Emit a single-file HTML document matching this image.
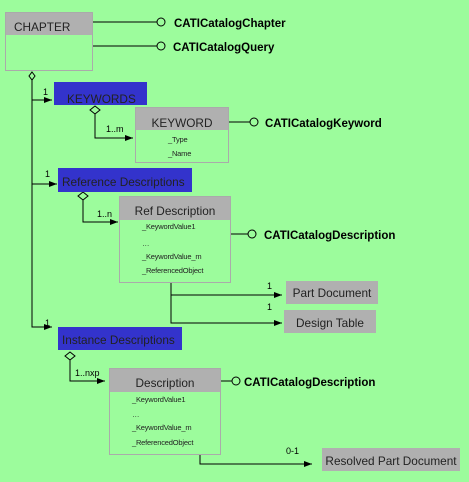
<!DOCTYPE html>
<html><head><meta charset="utf-8"><style>
body{margin:0;background:#9cfc9c;}
svg{display:block;font-family:"Liberation Sans",sans-serif;}
.h{font-size:11.8px;fill:#222}
.a{font-size:7.5px;fill:#222;letter-spacing:-0.2px}
.b{font-size:11.5px;font-weight:bold;fill:#000}
.s{font-size:9px;fill:#000}
</style></head><body>
<svg width="469" height="482" viewBox="0 0 469 482">
<rect width="469" height="482" fill="#9cfc9c"/>
<defs><marker id="ar" markerWidth="8" markerHeight="6" refX="8" refY="3" orient="auto" markerUnits="userSpaceOnUse"><path d="M0,0L8,3L0,6z" fill="#000"/></marker></defs>
<g stroke="#000" stroke-width="1" fill="none">
<line x1="92" y1="22" x2="157" y2="22"/><circle cx="161" cy="22" r="4"/>
<line x1="92" y1="46" x2="157" y2="46"/><circle cx="161" cy="46" r="4"/>
<path d="M32,72L35,76L32,80L29,76z"/>
<path d="M32,80V327H52" marker-end="url(#ar)"/>
<path d="M32,100H52" marker-end="url(#ar)"/>
<path d="M32,184H57" marker-end="url(#ar)"/>
<path d="M95,106L100,110L95,114L90,110z"/>
<path d="M95,114V138H133" marker-end="url(#ar)"/>
<line x1="229" y1="122" x2="250" y2="122"/><circle cx="254" cy="122" r="4"/>
<path d="M83,192L88,196L83,200L78,196z"/>
<path d="M83,200V222H118" marker-end="url(#ar)"/>
<line x1="230" y1="234" x2="248" y2="234"/><circle cx="252" cy="234" r="4"/>
<path d="M171,282V295H282" marker-end="url(#ar)"/>
<path d="M171,295V323H282" marker-end="url(#ar)"/>
<path d="M70,352L75,356L70,360L65,356z"/>
<path d="M70,360V381H105" marker-end="url(#ar)"/>
<line x1="220" y1="381" x2="232" y2="381"/><circle cx="236" cy="381" r="4"/>
<path d="M200,452V464H312" marker-end="url(#ar)"/>
</g>
<rect x="5.5" y="12.5" width="87" height="58" fill="#9cfc9c" stroke="#aaa"/>
<rect x="6" y="13" width="86" height="22" fill="#b0b0b0"/>
<text x="14" y="31" class="h">CHAPTER</text>
<text x="174" y="27" class="b">CATICatalogChapter</text>
<text x="173" y="51" class="b">CATICatalogQuery</text>

<rect x="54" y="82" width="93" height="23" fill="#3333cc"/>
<text x="67" y="103" class="h">KEYWORDS</text>
<text x="43" y="95" class="s">1</text>
<text x="106" y="132" class="s">1..m</text>
<rect x="135.5" y="107.5" width="93" height="55" fill="#9cfc9c" stroke="#aaa"/>
<rect x="136" y="108" width="92" height="22" fill="#b0b0b0"/>
<text x="182" y="127" class="h" text-anchor="middle">KEYWORD</text>
<text x="168" y="142" class="a">_Type</text>
<text x="168" y="156" class="a">_Name</text>
<text x="265" y="127" class="b">CATICatalogKeyword</text>

<text x="45" y="177" class="s">1</text>
<rect x="58" y="168" width="134" height="24" fill="#3333cc"/>
<text x="62" y="186" class="h">Reference Descriptions</text>
<text x="97" y="217" class="s">1..n</text>
<rect x="119.5" y="196.5" width="111" height="86" fill="#9cfc9c" stroke="#aaa"/>
<rect x="120" y="197" width="110" height="23" fill="#b0b0b0"/>
<text x="175" y="215" class="h" text-anchor="middle">Ref Description</text>
<text x="142" y="229" class="a">_KeywordValue1</text>
<text x="142" y="246" class="a">…</text>
<text x="142" y="259" class="a">_KeywordValue_m</text>
<text x="142" y="273" class="a">_ReferencedObject</text>
<text x="264" y="239" class="b">CATICatalogDescription</text>
<text x="267" y="289" class="s">1</text>
<rect x="286" y="281" width="92" height="23" fill="#b0b0b0"/>
<text x="332" y="297" class="h" text-anchor="middle">Part Document</text>
<text x="267" y="310" class="s">1</text>
<rect x="284" y="310" width="92" height="23" fill="#b0b0b0"/>
<text x="330" y="327" class="h" text-anchor="middle">Design Table</text>

<text x="45" y="326" class="s">1</text>
<rect x="58" y="327" width="124" height="23" fill="#3333cc"/>
<text x="62" y="344" class="h">Instance Descriptions</text>
<text x="75" y="376" class="s">1..nxp</text>
<rect x="109.5" y="368.5" width="111" height="86" fill="#9cfc9c" stroke="#aaa"/>
<rect x="110" y="369" width="110" height="23" fill="#b0b0b0"/>
<text x="165" y="387" class="h" text-anchor="middle">Description</text>
<text x="132" y="402" class="a">_KeywordValue1</text>
<text x="132" y="417" class="a">…</text>
<text x="132" y="430" class="a">_KeywordValue_m</text>
<text x="132" y="445" class="a">_ReferencedObject</text>
<text x="244" y="386" class="b">CATICatalogDescription</text>
<text x="286" y="454" class="s">0-1</text>
<rect x="322" y="448" width="138" height="23" fill="#b0b0b0"/>
<text x="391" y="465" class="h" text-anchor="middle">Resolved Part Document</text>
</svg>
</body></html>
